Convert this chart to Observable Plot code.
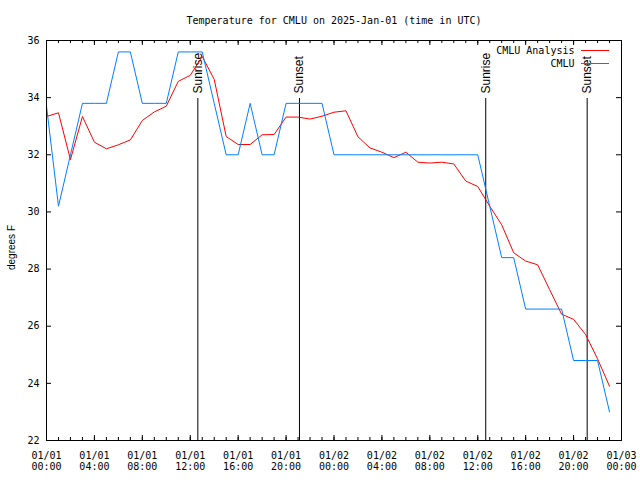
<!DOCTYPE html>
<html><head><meta charset="utf-8">
<script src="https://cdn.jsdelivr.net/npm/d3@7"></script>
<script src="https://cdn.jsdelivr.net/npm/@observablehq/plot@0.6"></script>
<style>html,body{margin:0;padding:0;background:#fff} svg{display:block}</style>
</head><body><div id="chart"></div>
<script>
const title = "Temperature for CMLU on 2025-Jan-01 (time in UTC)";
const yLabel = "degrees F";
const startTime = "2025-01-01T00:00Z";
const endTime = "2025-01-03T00:00Z";
const seriesNames = ["CMLU Analysis", "CMLU"];
const seriesColors = ["#ff0000", "#0080ff"];
// hourly values, 01/01 00:00 .. 01/02 23:00 UTC
const analysisTemps = [33.34,33.47,31.83,33.34,32.44,32.21,32.35,32.52,33.2,33.5,33.7,34.57,
  34.78,35.44,34.64,32.64,32.36,32.36,32.7,32.71,33.32,33.32,33.25,33.35,
  33.49,33.54,32.63,32.24,32.09,31.9,32.09,31.74,31.71,31.74,31.68,31.08,
  30.89,30.2,29.55,28.57,28.28,28.15,27.28,26.42,26.24,25.71,24.86,23.9];
const observedTemps = [33.7,30.2,32,33.8,33.8,33.8,35.6,35.6,33.8,33.8,33.8,35.6,
  35.6,35.6,33.8,32,32,33.8,32,32,33.8,33.8,33.8,33.8,
  32,32,32,32,32,32,32,32,32,32,32,32,
  32,30.2,28.4,28.4,26.6,26.6,26.6,26.6,24.8,24.8,24.8,23];
const sunTimes = ["2025-01-01T12:38Z","2025-01-01T21:07Z","2025-01-02T12:40Z","2025-01-02T21:08Z"];
const sunLabels = ["Sunrise","Sunset","Sunrise","Sunset"];
const yTicks = [22,24,26,28,30,32,34,36];

const t0 = new Date(startTime), t1 = new Date(endTime);
const hours = d3.utcHour.range(t0, t1);
const rows = [];
hours.forEach((t, i) => {
  rows.push({time: t, temp: analysisTemps[i], series: seriesNames[0]});
});
hours.forEach((t, i) => {
  rows.push({time: t, temp: observedTemps[i], series: seriesNames[1]});
});
const events = sunTimes.map((s, i) => ({time: new Date(s), label: sunLabels[i]}));
const majorTicks = d3.utcHour.every(4).range(t0, new Date(+t1 + 1));
const minorTicks = d3.utcHour.range(t0, new Date(+t1 + 1));
const fmt1 = d3.utcFormat("%m/%d"), fmt2 = d3.utcFormat("%H:%M");
const mono = "DejaVu Sans Mono";
const sans = "Liberation Sans";

const W = 640, H = 480, mL = 46, mR = 19, mT = 40, mB = 40;
const fw = W - mL - mR, fh = H - mT - mB;

const chart = Plot.plot({
  width: W, height: H,
  marginLeft: mL, marginRight: mR, marginTop: mT, marginBottom: mB,
  style: {fontFamily: mono, fontSize: "10px", background: "#fff", color: "#000"},
  x: {type: "utc", domain: [t0, t1]},
  y: {domain: [22, 36]},
  color: {domain: seriesNames, range: seriesColors},
  marks: [
    // ticks (inward, mirrored)
    Plot.tickX(minorTicks, {x: d => d, insetTop: fh - 3, stroke: "#000"}),
    Plot.tickX(minorTicks, {x: d => d, insetBottom: fh - 3, stroke: "#000"}),
    Plot.tickX(majorTicks, {x: d => d, insetTop: fh - 5, stroke: "#000"}),
    Plot.tickX(majorTicks, {x: d => d, insetBottom: fh - 5, stroke: "#000"}),
    Plot.tickY(yTicks, {y: d => d, insetRight: fw - 5, stroke: "#000"}),
    Plot.tickY(yTicks, {y: d => d, insetLeft: fw - 5, stroke: "#000"}),
    Plot.axisX({ticks: majorTicks, tickSize: 0, tickPadding: 11, fontSize: 10, lineHeight: 1.07,
      tickFormat: d => fmt1(d) + "\n" + fmt2(d), label: null}),
    Plot.axisY({ticks: yTicks, tickSize: 0, tickPadding: 7, fontSize: 10, label: null}),
    // sunrise / sunset
    Plot.ruleX(events, {x: "time", insetTop: 58, stroke: "#000"}),
    Plot.text(events, {x: "time", text: "label", frameAnchor: "top", dy: 53, dx: 0, rotate: -90,
      textAnchor: "start", lineAnchor: "middle", fontSize: 12, fontFamily: sans, fill: "#000"}),
    // data
    Plot.line(rows, {x: "time", y: "temp", z: "series", stroke: "series", strokeWidth: 1}),
    Plot.frame({stroke: "#000"}),
    // legend
    Plot.text([seriesNames[0]], {frameAnchor: "top-right", dx: -47, dy: 10, textAnchor: "end", lineAnchor: "middle", fontSize: 10, fill: "#000"}),
    Plot.text([seriesNames[1]], {frameAnchor: "top-right", dx: -47, dy: 23, textAnchor: "end", lineAnchor: "middle", fontSize: 10, fill: "#000"}),
    Plot.ruleY([0], {y: null, dy: (mT + 10) - (mT + fh / 2), insetLeft: fw - 40, insetRight: 12, stroke: seriesColors[0]}),
    Plot.ruleY([0], {y: null, dy: (mT + 23) - (mT + fh / 2), insetLeft: fw - 40, insetRight: 12, stroke: seriesColors[1]}),
    // title and y label
    Plot.text([title], {frameAnchor: "top", dy: -20, lineAnchor: "middle", fontSize: 10, fill: "#000"}),
    Plot.text([yLabel], {frameAnchor: "left", dx: -35, dy: 7, rotate: -90, textAnchor: "middle", lineAnchor: "middle", fontSize: 10, fontFamily: sans, fill: "#000"})
  ]
});
document.getElementById("chart").appendChild(chart);
</script>
</body></html>
